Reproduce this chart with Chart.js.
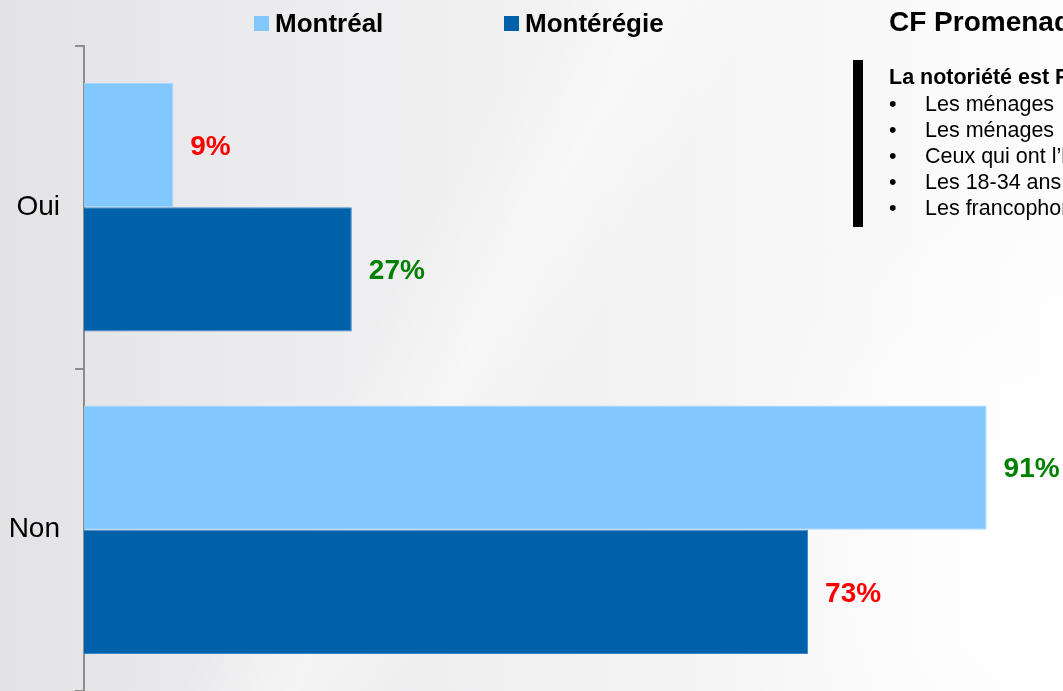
<!DOCTYPE html>
<html lang="fr">
<head>
<meta charset="utf-8">
<script src="https://cdn.jsdelivr.net/npm/chart.js@4/dist/chart.umd.min.js"></script>
<style>
  html, body { margin: 0; padding: 0; }
  body {
    width: 1063px; height: 691px; overflow: hidden; position: relative;
    font-family: Arial, "Liberation Sans", sans-serif;
    background:
      radial-gradient(ellipse 420px 520px at 1040px 560px, rgba(255,255,255,0.95), rgba(255,255,255,0) 75%),
      linear-gradient(118deg, rgba(255,255,255,0) 38%, rgba(255,255,255,0.45) 46%, rgba(255,255,255,0) 54%),
      linear-gradient(90deg, #e3e3e5 0%, #ececee 25%, #f2f2f3 55%, #f8f8f8 80%, #fdfdfd 100%);
  }
  #wrap { position: absolute; left: 0; top: 0; width: 1063px; height: 691px; }
  .legend { position: absolute; top: 8px; height: 30px; display: flex; align-items: center;
    font-weight: bold; font-size: 26px; color: #000; white-space: nowrap; }
  .legend span.box { display: inline-block; width: 15px; height: 15px; margin-right: 6px; }
  #panel { position: absolute; left: 0; top: 0; }
  #title { position: absolute; left: 889px; top: 6px; font-size: 28px; font-weight: bold; white-space: nowrap; color: #000; }
  #bar { position: absolute; left: 853px; top: 60px; width: 10px; height: 167px; background: #000; }
  #lead { position: absolute; left: 889px; top: 65px; font-size: 21.5px; font-weight: bold; white-space: nowrap; }
  .bullet { position: absolute; left: 889px; font-size: 21.5px; white-space: nowrap; line-height: 24px; }
  .bullet b { font-weight: normal; display: inline-block; width: 36px; }
</style>
</head>
<body>
<div id="wrap"><canvas id="chart" width="1063" height="691"></canvas></div>
<div id="legend"></div>
<div id="panel">
  <div id="title">CF Promenades</div>
  <div id="bar"></div>
  <div id="lead">La notoriété est Plus élevée chez :</div>
</div>
<script>
// categories and series
const categories = ['Oui', 'Non'];
const seriesNames = ['Montréal', 'Montérégie'];
const montreal = [9, 91];
const monteregie = [27, 73];
const seriesColors = ['#82c8ff', '#0061ab'];
const borderColors = ['#a6d8ff', '#3b86c6'];
// label colours per bar (red = lower, green = higher)
const montrealLabelColors = ['#ff0000', '#008000'];
const monteregieLabelColors = ['#008000', '#ff0000'];
const bullets = [
  'Les ménages  de 3 personnes et plus',
  'Les ménages  avec enfants',
  'Ceux qui ont l\u2019habitude de magasiner',
  'Les 18-34 ans',
  'Les francophones'
];

// legend (html)
const legendX = [254, 504];
const legendEl = document.getElementById('legend');
seriesNames.forEach((name, i) => {
  const d = document.createElement('div');
  d.className = 'legend';
  d.style.left = legendX[i] + 'px';
  d.innerHTML = '<span class="box" style="background:' + seriesColors[i] + '"></span>' + name;
  legendEl.appendChild(d);
});

// bullet list
const panel = document.getElementById('panel');
bullets.forEach((t, i) => {
  const d = document.createElement('div');
  d.className = 'bullet';
  d.style.top = (92 + i * 26) + 'px';
  d.innerHTML = '<b>\u2022</b>' + t.replace(/  /g, '&nbsp; ');
  panel.appendChild(d);
});

// value labels at bar ends
const valueLabels = {
  id: 'valueLabels',
  afterDatasetsDraw(chart) {
    const ctx = chart.ctx;
    const labelColors = [montrealLabelColors, monteregieLabelColors];
    ctx.save();
    ctx.font = 'bold 28px Arial, "Liberation Sans", sans-serif';
    ctx.textAlign = 'left';
    ctx.textBaseline = 'middle';
    chart.data.datasets.forEach((ds, di) => {
      chart.getDatasetMeta(di).data.forEach((bar, i) => {
        ctx.fillStyle = labelColors[di][i];
        ctx.fillText(ds.data[i] + '%', bar.x + 17, bar.y + 2);
      });
    });
    ctx.restore();
  }
};

new Chart(document.getElementById('chart'), {
  type: 'bar',
  data: {
    labels: categories,
    datasets: [
      { label: seriesNames[0], data: montreal, backgroundColor: seriesColors[0],
        borderColor: borderColors[0], borderWidth: 1, borderSkipped: 'left' },
      { label: seriesNames[1], data: monteregie, backgroundColor: seriesColors[1],
        borderColor: borderColors[1], borderWidth: 1, borderSkipped: 'left' }
    ]
  },
  options: {
    indexAxis: 'y',
    responsive: false,
    animation: false,
    categoryPercentage: 0.77,
    barPercentage: 1,
    layout: { autoPadding: false, padding: { top: 46, bottom: 0, left: 0, right: 0 } },
    plugins: { legend: { display: false }, tooltip: { enabled: false } },
    scales: {
      x: { display: false, min: 0, max: 98.7 },
      y: {
        afterFit(scale) {
          scale.width = 84;
          scale.paddingTop = 0;
          scale.paddingBottom = 0;
        },
        border: { display: true, color: '#8c8c8c', width: 2 },
        grid: { drawOnChartArea: false, drawTicks: true, tickLength: 9, color: '#8c8c8c', lineWidth: 2, offset: true },
        ticks: { color: '#000', padding: 15, font: { family: 'Arial, "Liberation Sans", sans-serif', size: 28 } }
      }
    }
  },
  plugins: [valueLabels]
});
</script>
</body>
</html>
